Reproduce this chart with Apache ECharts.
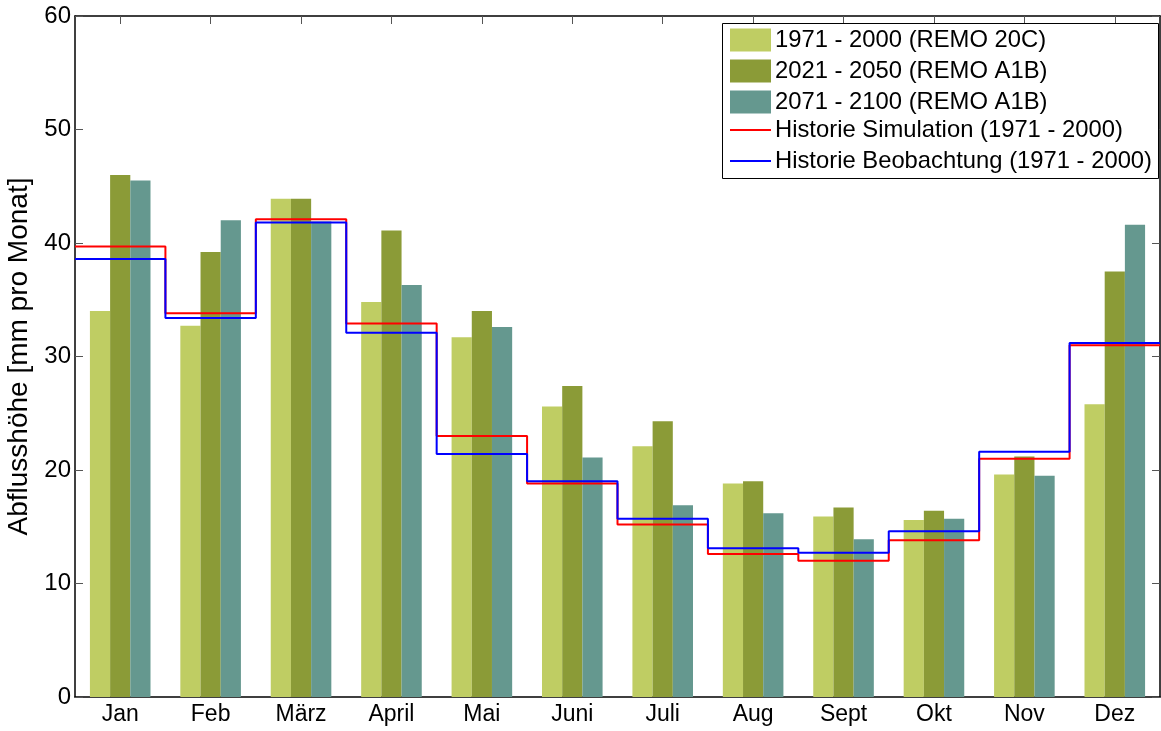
<!DOCTYPE html>
<html><head><meta charset="utf-8">
<script src="https://cdn.jsdelivr.net/npm/echarts@6/dist/echarts.min.js"></script>
<style>html,body{margin:0;padding:0;background:#fff}#c{width:1161px;height:731px}</style>
</head><body><div id="c"></div>
<script>
const months = ['Jan','Feb','März','April','Mai','Juni','Juli','Aug','Sept','Okt','Nov','Dez'];
const remo20C = [34.0, 32.7, 43.9, 34.8, 31.7, 25.6, 22.1, 18.8, 15.9, 15.6, 19.6, 25.8];
const remoA1B_2021 = [46.0, 39.2, 43.9, 41.1, 34.0, 27.4, 24.3, 19.0, 16.7, 16.4, 21.2, 37.5];
const remoA1B_2071 = [45.5, 42.0, 41.9, 36.3, 32.6, 21.1, 16.9, 16.2, 13.9, 15.7, 19.5, 41.6];
const histSim = [39.7, 33.8, 42.1, 32.9, 23.0, 18.8, 15.2, 12.6, 12.0, 13.8, 21.0, 31.0];
const histObs = [38.6, 33.4, 41.8, 32.1, 21.4, 19.0, 15.7, 13.1, 12.7, 14.6, 21.6, 31.2];
const yTicks = [0, 10, 20, 30, 40, 50, 60];

function stepData(arr){
  const d = arr.map((v,i)=>[i, v]);
  d.push([arr.length, arr[arr.length-1]]);
  return d;
}
const font = 'Liberation Sans, Arial, sans-serif';
const chart = echarts.init(document.getElementById('c'), null, {renderer:'canvas'});
const legendText = {fontFamily:font, fontSize:23.8, color:'#000', lineHeight:23, padding:[0,0,0,-1]};
chart.setOption({
  animation:false,
  backgroundColor:'#fff',
  textStyle:{fontFamily:font},
  grid:{left:75, right:1, top:16, bottom:34, containLabel:false, outerBoundsMode:'none'},
  graphic:{elements:[{type:'rect', z:3, shape:{x:722.5, y:23.5, width:436, height:155},
    style:{fill:'#fff', stroke:'#000', lineWidth:1}}]},
  legend:[{
    orient:'vertical', left:730, top:28, padding:0,
    itemGap:7, itemWidth:41, itemHeight:23, icon:'rect',
    textStyle:legendText,
    data:['1971 - 2000 (REMO 20C)','2021 - 2050 (REMO A1B)','2071 - 2100 (REMO A1B)']
  },{
    orient:'vertical', left:730, top:118, padding:0,
    itemGap:7, itemWidth:41, itemHeight:2, icon:'rect',
    textStyle:legendText,
    data:['Historie Simulation (1971 - 2000)','Historie Beobachtung (1971 - 2000)']
  }],
  xAxis:[
    {type:'category', data:months, position:'bottom',
     axisLine:{show:true, lineStyle:{color:'#000', width:1.5}},
     axisTick:{show:true, inside:true, alignWithLabel:true, length:8, lineStyle:{color:'#555'}},
     axisLabel:{fontFamily:font, fontSize:23, color:'#000', margin:6},
     splitLine:{show:false}},
    {type:'value', min:0, max:12, show:false},
    {type:'category', data:months, position:'top',
     axisLine:{show:true, lineStyle:{color:'#000', width:1.5}},
     axisTick:{show:true, inside:true, alignWithLabel:true, length:8, lineStyle:{color:'#555'}},
     axisLabel:{show:false}, splitLine:{show:false}}
  ],
  yAxis:[
    {type:'value', min:0, max:60, interval:10, position:'left',
     name:'Abflusshöhe [mm pro Monat]', nameLocation:'middle', nameGap:36,
     nameTextStyle:{fontFamily:font, fontSize:28, color:'#000'},
     axisLine:{show:true, lineStyle:{color:'#000', width:1.5}},
     axisTick:{show:true, inside:true, length:8, lineStyle:{color:'#555'}},
     axisLabel:{fontFamily:font, fontSize:24, color:'#000', margin:4,
       formatter:v=>yTicks.includes(v)?String(v):''},
     splitLine:{show:false}},
    {type:'value', min:0, max:60, interval:10, position:'right',
     axisLine:{show:true, lineStyle:{color:'#000', width:1.5}},
     axisTick:{show:true, inside:true, length:8, lineStyle:{color:'#555'}},
     axisLabel:{show:false}, splitLine:{show:false}}
  ],
  series:[
    {name:'1971 - 2000 (REMO 20C)', type:'bar', data:remo20C, xAxisIndex:0, yAxisIndex:0,
     barGap:'0%', barCategoryGap:'33%', itemStyle:{color:'#bfcd63'}},
    {name:'2021 - 2050 (REMO A1B)', type:'bar', data:remoA1B_2021, xAxisIndex:0, yAxisIndex:0,
     barGap:'0%', barCategoryGap:'33%', itemStyle:{color:'#8b9b37'}},
    {name:'2071 - 2100 (REMO A1B)', type:'bar', data:remoA1B_2071, xAxisIndex:0, yAxisIndex:0,
     barGap:'0%', barCategoryGap:'33%', itemStyle:{color:'#65988f'}},
    {name:'Historie Simulation (1971 - 2000)', type:'line', step:'end', xAxisIndex:1, yAxisIndex:0,
     data:stepData(histSim), symbol:'none', lineStyle:{color:'#ff0000', width:2}, itemStyle:{color:'#ff0000'}, z:5},
    {name:'Historie Beobachtung (1971 - 2000)', type:'line', step:'end', xAxisIndex:1, yAxisIndex:0,
     data:stepData(histObs), symbol:'none', lineStyle:{color:'#0000ff', width:2}, itemStyle:{color:'#0000ff'}, z:6}
  ]
});
</script></body></html>
